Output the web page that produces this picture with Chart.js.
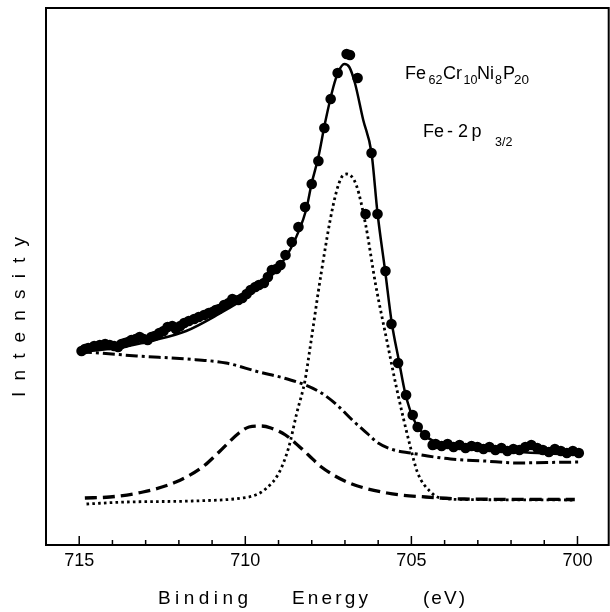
<!DOCTYPE html>
<html>
<head>
<meta charset="utf-8">
<script src="https://cdn.jsdelivr.net/npm/chart.js@4.4.1/dist/chart.umd.min.js"></script>
<style>
  html, body { margin: 0; padding: 0; background: #fff; overflow: hidden; }
  canvas { display: block; }
</style>
</head>
<body>
<canvas id="xps" width="614" height="612"></canvas>
<script>
// measured spectrum (binding energy in eV, intensity in arb. units)
const dataE = [714.93, 714.83, 714.73, 714.55, 714.38, 714.22, 714.08, 713.95, 713.83, 713.73,
  713.63, 713.53, 713.43, 713.30, 713.18, 713.06, 712.94, 712.83, 712.73, 712.59,
  712.46, 712.34, 712.20, 712.09, 711.96, 711.84, 711.70, 711.54, 711.40, 711.24,
  711.10, 710.99, 710.89, 710.79, 710.64, 710.50, 710.39, 710.21, 710.09, 709.96,
  709.84, 709.70, 709.59, 709.44, 709.32, 709.20, 709.07, 708.94, 708.79, 708.60,
  708.40, 708.20, 708.00, 707.80, 707.62, 707.43, 707.22, 706.95, 706.85, 706.62,
  706.38, 706.20, 706.02, 705.78, 705.60, 705.40, 705.16, 704.96, 704.81, 704.59,
  704.36, 704.27, 704.09, 703.91, 703.73, 703.55, 703.37, 703.19, 703.01, 702.83,
  702.65, 702.47, 702.29, 702.11, 701.93, 701.75, 701.57, 701.39, 701.21, 701.04,
  700.86, 700.68, 700.50, 700.32, 700.14, 699.96];
const dataI = [194, 196, 197, 199, 200, 201, 200, 199, 198, 201,
  202, 203, 205, 206, 208, 206, 205, 208, 209, 212,
  214, 218, 219, 216, 219, 222, 224, 226, 228, 230,
  232, 233, 235, 236, 240, 242, 246, 245, 247, 251,
  255, 258, 260, 262, 268, 275, 276, 280, 290, 303,
  318, 338, 361, 384, 417, 446, 472, 491, 490, 467,
  331, 392, 331, 274, 221, 182, 150, 130, 118, 110,
  100, 101, 99, 101, 98, 100, 97, 99, 98, 96,
  98, 95, 97, 94, 96, 95, 98, 100, 97, 95,
  93, 96, 94, 92, 94, 92];

// total fit (solid)
const fitE = [714.98, 713.88, 712.72, 711.78, 710.85, 709.92, 709.22, 708.64, 708.17, 708.00,
  707.80, 707.60, 707.35, 707.20, 707.02, 706.87, 706.70, 706.45, 706.20, 706.02,
  705.79, 705.59, 705.38, 705.18, 704.92, 704.57, 703.98, 702.24, 699.97];
const fitI = [193, 197, 205, 214, 230, 249, 269, 296, 335, 362,
  388, 422, 458, 473, 481, 478, 462, 425, 392, 332,
  274, 222, 185, 151, 125, 109, 100, 94, 90];

// background (dash-dot)
const bgE = [714.98, 714.38, 713.27, 711.78, 710.58, 709.59, 708.84, 708.19, 707.71, 707.24,
  706.78, 706.31, 706.00, 705.52, 705.01, 704.51, 703.82, 702.80, 701.81, 700.92, 699.93];
const bgI = [193, 192, 189, 186, 182, 173, 167, 160, 152, 140,
  125, 111, 102, 95, 92, 89, 86, 84, 82, 82.5, 83];

// metallic component (dotted)
const metalE = [714.78, 713.58, 711.59, 710.09, 709.69, 709.39, 708.99, 708.69, 708.45, 708.20,
  708.06, 707.71, 707.36, 707.13, 706.95, 706.66, 706.37, 706.08, 705.73, 705.44,
  705.03, 704.81, 704.42, 704.12, 703.40, 700.08];
const metalI = [41, 43, 44, 47, 50, 56, 72, 98, 132, 165,
  195, 273, 339, 366, 371, 360, 319, 261, 203, 156,
  98, 72, 53, 47, 45.5, 45];

// oxide component (dashed)
const oxideE = [714.83, 714.08, 713.08, 712.09, 711.29, 710.79, 710.19, 709.89, 709.53, 709.23,
  708.79, 708.10, 707.71, 706.90, 705.73, 704.57, 703.40, 700.08];
const oxideI = [47, 48, 53, 63, 78, 93, 112, 118, 119, 117,
  110, 90, 78, 62.5, 52, 48, 46, 45.5];

const tickValues = [715, 714, 713, 712, 711, 710, 709, 708, 707, 706, 705, 704, 703, 702, 701, 700];
const tickLabels = ['715', '710', '705', '700'];

const FONT = '"Liberation Sans", Arial, sans-serif';
const pts = (xs, ys) => xs.map((x, i) => ({ x: x, y: ys[i] }));

function curve(xs, ys, dash, width) {
  return {
    data: pts(xs, ys),
    showLine: true,
    borderColor: '#000',
    borderWidth: width,
    borderDash: dash,
    pointRadius: 0,
    cubicInterpolationMode: 'monotone',
    fill: false
  };
}

// frame, inward ticks and the text
const decor = {
  id: 'decor',
  afterDraw(chart) {
    const { ctx, chartArea: a, scales: { x } } = chart;
    ctx.save();
    ctx.strokeStyle = '#000';
    ctx.lineWidth = 2;
    ctx.strokeRect(a.left, a.top, a.right - a.left, a.bottom - a.top);

    ctx.lineWidth = 1.5;
    tickValues.forEach(v => {
      const px = x.getPixelForValue(v);
      const len = v % 5 === 0 ? 9 : 5;
      ctx.beginPath();
      ctx.moveTo(px, a.bottom);
      ctx.lineTo(px, a.bottom - len);
      ctx.stroke();
    });

    ctx.fillStyle = '#000';
    ctx.textAlign = 'left';
    ctx.textBaseline = 'alphabetic';

    const spaced = (text, px, py, width) => {
      ctx.letterSpacing = '0px';
      const w = ctx.measureText(text).width;
      ctx.letterSpacing = ((width - w) / Math.max(1, text.length - 1)) + 'px';
      ctx.fillText(text, px, py);
      ctx.letterSpacing = '0px';
    };

    ctx.font = '19px ' + FONT;
    spaced('Binding', 158, 604, 90);
    spaced('Energy', 292, 604, 76);
    spaced('(eV)', 423, 604, 42);

    ctx.save();
    ctx.translate(25, 397);
    ctx.rotate(-Math.PI / 2);
    spaced('Intensity', 0, 0, 160);
    ctx.restore();

    const parts = [
      ['Fe', 405, 79, 18], ['62', 428.5, 84, 12.5], ['Cr', 443, 79, 18], ['10', 463.5, 84, 12.5],
      ['Ni', 477, 79, 18], ['8', 495, 84, 12.5], ['P', 503, 79, 18], ['20', 514, 84, 13.5],
      ['Fe', 423, 137, 18], ['-', 447, 137, 18], ['2', 458, 137, 18], ['p', 471.5, 137, 18],
      ['3/2', 495, 146, 12.5]
    ];
    parts.forEach(([t, px, py, size]) => {
      ctx.font = size + 'px ' + FONT;
      ctx.fillText(t, px, py);
    });
    ctx.restore();
  }
};

new Chart(document.getElementById('xps'), {
  type: 'scatter',
  data: {
    datasets: [
      {
        data: pts(dataE, dataI),
        pointRadius: 5.3,
        pointBackgroundColor: '#000',
        pointBorderWidth: 0,
        showLine: false
      },
      curve(fitE, fitI, [], 2.5),
      curve(bgE, bgI, [12, 4, 3, 4], 3),
      curve(metalE, metalI, [2.6, 3.2], 2.8),
      curve(oxideE, oxideI, [12, 6], 3.3)
    ]
  },
  options: {
    responsive: false,
    animation: false,
    devicePixelRatio: 1,
    layout: { padding: { left: 46, top: 8, right: 2, bottom: 0 } },
    plugins: { legend: { display: false }, tooltip: { enabled: false } },
    scales: {
      x: {
        type: 'linear',
        reverse: true,
        min: 699.06,
        max: 716,
        afterBuildTicks: s => { s.ticks = tickValues.map(v => ({ value: v })); },
        afterFit: s => { s.height = 67; },
        grid: { display: false, drawTicks: false },
        border: { display: false },
        ticks: {
          autoSkip: false,
          maxRotation: 0,
          padding: 5,
          color: '#000',
          font: { family: FONT, size: 18 },
          callback: v => tickLabels.includes(String(v)) ? String(v) : ''
        }
      },
      y: {
        display: false,
        min: 0,
        max: 537
      }
    }
  },
  plugins: [decor]
});
</script>
</body>
</html>
